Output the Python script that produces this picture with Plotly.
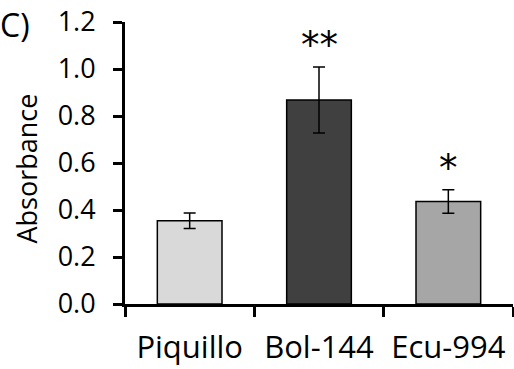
import plotly.graph_objects as go

categories = ["Piquillo", "Bol-144", "Ecu-994"]
values = [0.354, 0.868, 0.436]
errors = [0.033, 0.140, 0.050]
colors = ["#d9d9d9", "#404040", "#a6a6a6"]
significance = ["", "**", "*"]
y_ticks = [0.0, 0.2, 0.4, 0.6, 0.8, 1.0, 1.2]

FONT = "Open Sans"

fig = go.Figure()
fig.add_trace(go.Bar(
    x=categories, y=values,
    marker=dict(color=colors, line=dict(color="black", width=1.5)),
    width=0.5,
    error_y=dict(type="data", array=errors, visible=True, color="black",
                 thickness=1.5, width=6),
))

for c, v, e, s in zip(categories, values, errors, significance):
    if s:
        fig.add_annotation(x=c, y=v + e, text=s, showarrow=False,
                           yanchor="bottom", yshift=-2,
                           font=dict(family="DejaVu Sans", size=37, color="black"))

fig.add_annotation(xref="paper", yref="paper", x=-0.24, y=0.99, text="C)",
                   showarrow=False, xanchor="right", yanchor="middle",
                   font=dict(family=FONT, size=32, color="black"))

fig.add_annotation(xref="paper", yref="paper", x=-0.253, y=0.48, text="Absorbance",
                   showarrow=False, xanchor="center", yanchor="middle",
                   textangle=-90,
                   font=dict(family=FONT, size=27, color="black"))

fig.update_layout(
    width=514, height=369,
    margin=dict(l=125, r=1, t=22, b=65),
    paper_bgcolor="white", plot_bgcolor="white",
    showlegend=False,
    font=dict(family=FONT, color="black"),
    bargap=0.5,
)
fig.update_xaxes(
    type="category", tickson="boundaries",
    showline=True, linecolor="black", linewidth=3,
    ticks="outside", ticklen=10, tickwidth=3, tickcolor="black",
    tickfont=dict(family=FONT, size=31, color="black"),
    ticklabelstandoff=14,
    showgrid=False, zeroline=False,
)
fig.update_yaxes(
    range=[0, 1.2], tickvals=y_ticks, tickformat=".1f",
    showline=True, linecolor="black", linewidth=3,
    ticks="outside", ticklen=9, tickwidth=3, tickcolor="black",
    tickfont=dict(family=FONT, size=27, color="black"),
    ticklabelstandoff=12,
    showgrid=False, zeroline=False,
)

fig.write_html("out.html")
